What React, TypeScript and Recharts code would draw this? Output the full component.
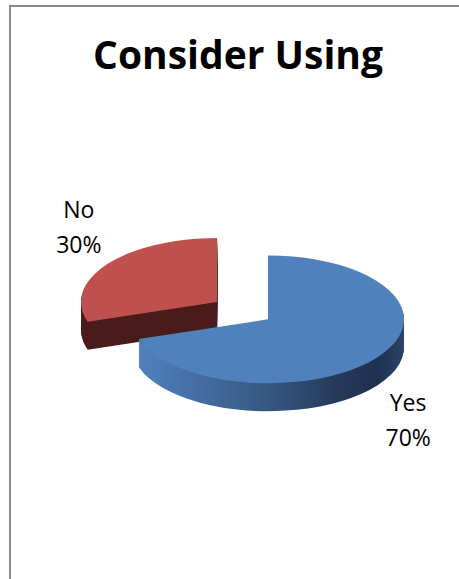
import React from "react";
import { PieChart, Pie, Cell } from "recharts";

// answers to "Consider Using"
const categories = ["Yes", "No"];
const shares = [70, 30];

// top face / side wall colours per slice
const TOP_COLORS = ["#4F81BD", "#C0504D"];
const WALL_COLORS = ["url(#yesWall)", "#4A1C1C"];
const EXPLODED = "No";

// fake 3d: squash the pie vertically and stack darker copies underneath
const CX = 263;
const CY = 317;
const R = 136;
const K = 0.47;
const DEPTH = 28;
const EXPLODE = 63;
const LABEL_R = 172;
const LABEL_DX = 6;
const LINE = 35;

const data = categories.map((name, i) => ({ name, value: shares[i] }));
const total = shares.reduce((a, b) => a + b, 0);

// clockwise from 12 o'clock, like Excel
const midAngles = (() => {
  let cum = 0;
  return shares.map((v) => {
    const mid = 90 - ((cum + v / 2) / total) * 360;
    cum += v;
    return mid;
  });
})();

const offsetFor = (i: number) => {
  if (categories[i] !== EXPLODED) return { dx: 0, dy: 0 };
  const rad = (midAngles[i] * Math.PI) / 180;
  return { dx: EXPLODE * Math.cos(rad), dy: -EXPLODE * Math.sin(rad) * K };
};

const sliceStyle = (i: number): React.CSSProperties => {
  const { dx, dy } = offsetFor(i);
  return {
    transform: `translate(${dx}px, ${dy}px) scale(1, ${K})`,
    transformOrigin: `${CX}px ${CY}px`,
  };
};

const renderLabel = (props: any) => {
  const { midAngle, index, name, value } = props;
  const rad = (midAngle * Math.PI) / 180;
  const { dx, dy } = offsetFor(index);
  const x = CX + dx + LABEL_R * Math.cos(rad) + LABEL_DX;
  const y = CY + dy - K * LABEL_R * Math.sin(rad);
  const back = Math.sin(rad) > 0;
  const first = back ? y - LINE + 1 : y + DEPTH + 18;
  return (
    <text
      key={`lbl-${index}`}
      x={x}
      y={first}
      textAnchor="middle"
      fontFamily="'Open Sans', sans-serif"
      fontSize={23}
      fill="#000"
    >
      <tspan x={x} y={first}>{name}</tspan>
      <tspan x={x} y={first + LINE}>{`${value}%`}</tspan>
    </text>
  );
};

const layers = Array.from({ length: DEPTH }, (_, i) => DEPTH - i);

export default function App() {
  return (
    <div
      style={{
        position: "absolute",
        left: 0,
        top: 0,
        width: 459,
        height: 579,
        overflow: "hidden",
        background: "#fff",
      }}
    >
      {/* chart frame, only top and left edges show */}
      <div
        style={{
          position: "absolute",
          left: 9,
          top: 5,
          width: 470,
          height: 600,
          border: "2px solid #898989",
          boxSizing: "border-box",
        }}
      />
      <div style={{ position: "absolute", left: 0, top: 0 }}>
        <PieChart width={459} height={579}>
          <defs>
            <linearGradient id="yesWall" x1="0" y1="0" x2="1" y2="0">
              <stop offset="0" stopColor="#5080BC" />
              <stop offset="0.2" stopColor="#4670A6" />
              <stop offset="0.5" stopColor="#36567F" />
              <stop offset="0.75" stopColor="#25395A" />
              <stop offset="0.9" stopColor="#1E3150" />
              <stop offset="1" stopColor="#2A4468" />
            </linearGradient>
          </defs>
          <text
            x={238}
            y={69}
            textAnchor="middle"
            fontFamily="'Open Sans', sans-serif"
            fontWeight="bold"
            fontSize={39}
            fill="#000"
          >
            Consider Using
          </text>
          {layers.map((d) => (
            <Pie
              key={`wall-${d}`}
              data={data}
              dataKey="value"
              nameKey="name"
              cx={CX}
              cy={CY + d / K}
              outerRadius={R}
              startAngle={90}
              endAngle={-270}
              stroke="none"
              isAnimationActive={false}
            >
              {data.map((entry, i) => (
                <Cell key={`w-${d}-${i}`} fill={WALL_COLORS[i]} style={sliceStyle(i)} />
              ))}
            </Pie>
          ))}
          <Pie
            data={data}
            dataKey="value"
            nameKey="name"
            cx={CX}
            cy={CY}
            outerRadius={R}
            startAngle={90}
            endAngle={-270}
            stroke="none"
            label={renderLabel}
            labelLine={false}
            isAnimationActive={false}
          >
            {data.map((entry, i) => (
              <Cell key={`t-${i}`} fill={TOP_COLORS[i]} style={sliceStyle(i)} />
            ))}
          </Pie>
        </PieChart>
      </div>
    </div>
  );
}
